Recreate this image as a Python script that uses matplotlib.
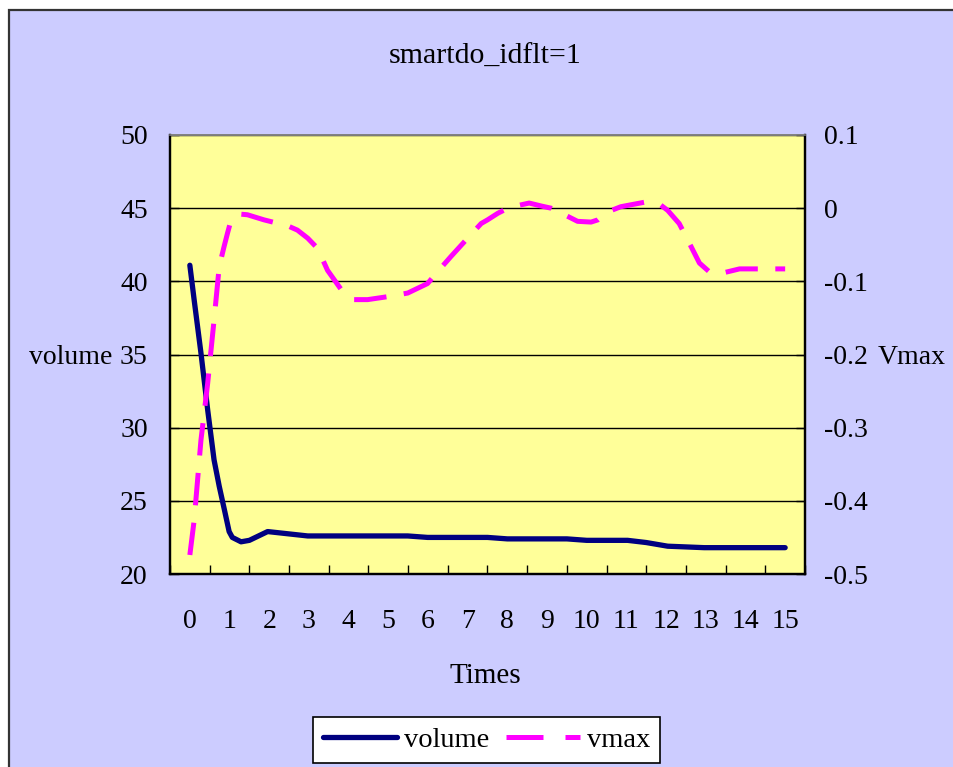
import matplotlib
matplotlib.use("Agg")
import matplotlib.pyplot as plt
from matplotlib.patches import Rectangle
from matplotlib.lines import Line2D

plt.rcParams['font.family'] = ['Liberation Serif', 'DejaVu Serif']

# data (x in "Times" units)
title = "smartdo_idflt=1"
x_labels = [str(i) for i in range(16)]
vol_ticks = [20, 25, 30, 35, 40, 45, 50]
vmax_ticks = [-0.5, -0.4, -0.3, -0.2, -0.1, 0.0, 0.1]
vmax_tick_labels = ["-0.5", "-0.4", "-0.3", "-0.2", "-0.1", "0", "0.1"]

vol_x = [0, 0.11, 0.28, 0.45, 0.61, 0.74, 0.87, 0.99, 1.07, 1.29, 1.5, 1.96,
         2.97, 5.49, 5.99, 7.5, 8.0, 9.5, 10.0, 11.03, 11.5, 12.04, 12.96, 15.0]
vol_y = [41.1, 38.7, 35.1, 31.2, 27.8, 26.0, 24.4, 22.9, 22.5, 22.2, 22.3, 22.9,
         22.6, 22.6, 22.5, 22.5, 22.4, 22.4, 22.3, 22.3, 22.15, 21.9, 21.8, 21.8]

vmax_x = [0, 0.11, 0.28, 0.45, 0.61, 0.74, 0.86, 0.95, 1.03, 1.24, 1.45,
          1.87, 2.46, 2.71, 2.97, 3.22, 3.47, 3.85, 4.14, 4.48, 4.98,
          5.49, 5.99, 6.24, 6.58, 7.0, 7.34, 7.5, 7.76, 8.05, 8.55,
          8.85, 9.1, 9.44, 9.77, 10.11, 10.28, 10.53, 10.86, 11.54, 11.87,
          12.04, 12.33, 12.55, 12.84, 13.09, 13.47, 13.85, 14.06, 15.0]
vmax_y = [-0.474, -0.426, -0.317, -0.239, -0.153, -0.080, -0.053, -0.034, -0.018, -0.008, -0.009,
          -0.016, -0.024, -0.030, -0.041, -0.055, -0.085, -0.114, -0.125, -0.125, -0.121,
          -0.116, -0.103, -0.087, -0.066, -0.041, -0.021, -0.016, -0.007, 0.001, 0.007,
          0.003, 0.000, -0.009, -0.018, -0.019, -0.016, -0.005, 0.002, 0.009, 0.004,
          -0.003, -0.021, -0.044, -0.075, -0.087, -0.088, -0.083, -0.083, -0.083]

W, H = 954, 767
fig = plt.figure(figsize=(W / 100, H / 100), dpi=100, facecolor='white')

# chart area with border (left/top visible, rest cut off)
fig.patches.append(Rectangle((9 / W, -0.1), 1.2, 1.1 - 10 / H, transform=fig.transFigure,
                             facecolor='#CCCCFF', edgecolor='#333333', lw=1.6, zorder=-5))

ax = fig.add_axes([170 / W, 1 - 574 / H, 635 / W, 439 / H])
ax.set_facecolor('#FFFF99')
ax2 = ax.twinx()

ax.plot(vol_x, vol_y, color='#000080', lw=3.8, solid_capstyle='round',
        solid_joinstyle='round', label='volume', zorder=3)
vline, = ax2.plot(vmax_x, vmax_y, color='#FF00FF', lw=3.6, label='vmax', zorder=3)
vline.set_dashes((6.5, 3.5))
vline.set_dash_capstyle('butt')

ax.set_xlim(-0.5, 15.5)
ax.set_ylim(20, 50)
ax2.set_ylim(-0.5, 0.1)

ax.set_xticks(range(16))
ax.set_xticklabels(x_labels)
ax.set_xticks([i - 0.5 for i in range(17)], minor=True)
ax.tick_params(axis='x', which='major', length=0, pad=25.5, labelsize=20)
ax.tick_params(axis='x', which='minor', direction='in', length=6.5, width=1, color='black')

ax.set_yticks(vol_ticks)
ax.tick_params(axis='y', direction='in', length=6.5, width=1, pad=16, labelsize=20)
ax2.set_yticks(vmax_ticks)
ax2.set_yticklabels(vmax_tick_labels)
ax2.tick_params(axis='y', direction='in', length=6.5, width=1, pad=14, labelsize=20)

ax.grid(axis='y', color='black', lw=1)
ax.set_axisbelow(True)

for a in (ax, ax2):
    for s in ('left', 'right', 'bottom'):
        a.spines[s].set_color('black')
        a.spines[s].set_linewidth(1.6)
    a.spines['top'].set_color('#808080')
    a.spines['top'].set_linewidth(1.2)

ax.set_ylabel('volume', rotation=0, fontsize=20, ha='right', va='center_baseline')
ax.yaxis.set_label_coords(-0.091, 0.5)
ax2.set_ylabel('Vmax', rotation=0, fontsize=20, ha='left', va='center_baseline')
ax2.yaxis.set_label_coords(1.115, 0.5)
ax.set_xlabel('Times', fontsize=21, va='center')
ax.xaxis.set_label_coords(0.496, -0.232)

ax.text(0.4965, 1.177, title, transform=ax.transAxes, ha='center', va='center', fontsize=21.5)

handles = [Line2D([], [], color='#000080', lw=3.8, solid_capstyle='round'),
           Line2D([], [], color='#FF00FF', lw=3.6, dashes=(7.4, 4.4))]
leg = fig.legend(handles, ['volume', 'vmax'], loc='center',
                 bbox_to_anchor=(486.5 / W, 1 - 740 / H), ncol=2, fontsize=20.5,
                 frameon=True, fancybox=False, edgecolor='black', framealpha=1,
                 handlelength=2.6, handletextpad=0.25, columnspacing=0.6,
                 borderpad=0.35, borderaxespad=0)
leg.get_frame().set_linewidth(1.2)

fig.savefig('out.png', dpi=100, facecolor=fig.get_facecolor())
